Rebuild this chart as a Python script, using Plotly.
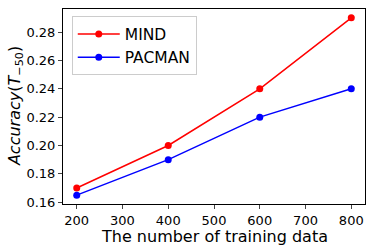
import plotly.graph_objects as go

x_vals = [200, 400, 600, 800]
mind = [0.17, 0.20, 0.24, 0.29]
pacman = [0.165, 0.19, 0.22, 0.24]
x_ticks = [200, 300, 400, 500, 600, 700, 800]
y_ticks = [0.16, 0.18, 0.20, 0.22, 0.24, 0.26, 0.28]

fig = go.Figure()
fig.add_trace(go.Scatter(x=x_vals, y=mind, mode="lines+markers", name="MIND",
                         line=dict(color="red", width=1.5), marker=dict(color="red", size=7)))
fig.add_trace(go.Scatter(x=x_vals, y=pacman, mode="lines+markers", name="PACMAN",
                         line=dict(color="blue", width=1.5), marker=dict(color="blue", size=7)))

fig.update_layout(
    width=374, height=251,
    margin=dict(l=63, r=9, t=9, b=47, autoexpand=False),
    paper_bgcolor="white", plot_bgcolor="white",
    font=dict(family="DejaVu Sans", color="black", size=13),
    showlegend=True,
    legend=dict(x=0.029, y=0.962, xanchor="left", yanchor="top",
                bordercolor="#cccccc", borderwidth=1, bgcolor="rgba(255,255,255,0.8)",
                font=dict(size=15.5), tracegroupgap=0, itemwidth=42),
    xaxis=dict(range=[170, 830], tickvals=x_ticks, ticks="outside", ticklen=4,
               showgrid=False, zeroline=False, showline=True, linecolor="black",
               linewidth=1, mirror=True, automargin=False),
    yaxis=dict(range=[0.15875, 0.29625], tickvals=y_ticks, tickformat=".2f",
               ticks="outside", ticklen=4,
               showgrid=False, zeroline=False, showline=True, linecolor="black",
               linewidth=1, mirror=True, automargin=False),
    annotations=[
        dict(text="The number of training data", xref="paper", yref="paper",
             x=0.5, y=-0.168, xanchor="center", yanchor="middle", showarrow=False,
             font=dict(size=16)),
        dict(text="<i>Accuracy</i>(<i>T</i><sub>−50</sub>)", xref="paper", yref="paper",
             x=-0.157, y=0.5, xanchor="center", yanchor="middle", showarrow=False,
             textangle=-90, font=dict(size=16)),
    ],
)
fig.write_html("out.html", config={"displayModeBar": False},
               post_script="document.body.style.margin='0';document.body.style.overflow='hidden';")
